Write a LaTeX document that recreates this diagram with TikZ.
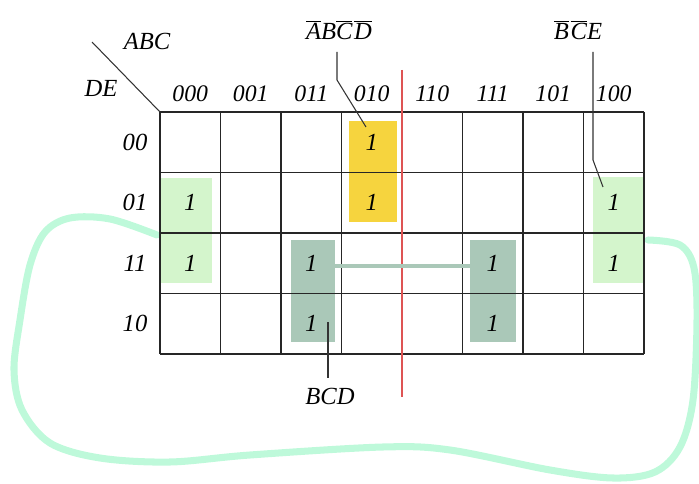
\documentclass[tikz,border=0pt]{standalone}
\usepackage{fontspec}
\setmainfont{Liberation Serif}
\usepackage{tikz}
\usetikzlibrary{positioning, calc}

\definecolor{yelbox}{RGB}{246,212,62}
\definecolor{ltgreen}{RGB}{212,245,204}
\definecolor{sage}{RGB}{170,200,184}
\definecolor{mint}{RGB}{190,249,218}
\definecolor{axisred}{RGB}{222,84,84}
\newcommand{\ov}[1]{$\overline{\mbox{#1}}$}

\begin{document}
\begin{tikzpicture}[
  font=\itshape\fontsize{14}{16}\selectfont,
  hdr/.style={font=\itshape\fontsize{13.5}{16}\selectfont},
  one/.style={inner sep=0pt},
  grp/.style={inner sep=0pt, draw=none},
  lead/.style={draw=black!80, line width=0.6pt},
  gridln/.style={black!85, line width=0.9pt},
]
  % 8 columns (ABC) x 4 rows (DE), origin = top-left corner of the map
  \def\cw{1.21}
  \useasboundingbox (-3.2,2.24) rectangle (10.78,-7.44);

  % Freehand loop (drawn first, sits behind the map)
  \draw[mint, line width=4pt, line cap=round, line join=round]
    plot[smooth, tension=0.55] coordinates {
      (-0.06,-2.46) (-1.00,-2.14) (-1.80,-2.12) (-2.30,-2.40) (-2.60,-3.06)
      (-2.80,-4.16) (-2.92,-5.16) (-2.76,-5.96) (-2.20,-6.62) (-1.20,-6.92)
      (0.20,-7.00) (1.80,-6.86) (4.46,-6.70) (5.80,-6.76) (7.80,-7.16)
      (9.06,-7.32) (9.90,-7.20) (10.40,-6.70) (10.66,-5.76) (10.74,-4.16)
      (10.68,-3.12) (10.40,-2.66) (9.76,-2.56)};

  % Groups of ones
  \node[grp, fill=yelbox, minimum width=0.96cm, minimum height=2.02cm] (gy) at (4.26,-1.19) {};
  \node[grp, fill=ltgreen, minimum width=1.02cm, minimum height=2.10cm] (ggl) at (0.53,-2.37) {};
  \node[grp, fill=ltgreen, minimum width=1.00cm, minimum height=2.12cm] (ggr) at (9.16,-2.36) {};
  \node[grp, fill=sage, minimum width=0.88cm, minimum height=2.04cm] (gdl) at (3.06,-3.58) {};
  \node[grp, fill=sage, minimum width=0.92cm, minimum height=2.04cm] (gdr) at (6.66,-3.58) {};

  % Grid (column line 4 is the red mirror axis)
  \foreach \x in {0,1,2,3,5,6,7,8}
    \draw[gridln] (\x*\cw,0) -- (\x*\cw,-4*\cw);
  \foreach \y in {0,...,4}
    \draw[gridln] (0,-\y*\cw) -- (8*\cw,-\y*\cw);
  \draw[axisred, line width=0.6pt] (4*\cw,0.84) -- (4*\cw,-5.70);

  % Corner
  \coordinate (corner) at (0,0);
  \draw[lead] (-1.36,1.40) -- (corner);
  \node[anchor=base] (labc) at (-0.26,1.24) {ABC};
  \node[anchor=base] (lde) at (-1.18,0.30) {DE};

  % Column and row labels
  \foreach \c/\t in {0/000, 1/001, 2/011, 3/010, 4/110, 5/111, 6/101, 7/100}
    \node[hdr] (h\c) at ({(\c+0.5)*\cw},0.36) {\t};
  \foreach \r/\t in {0/00, 1/01, 2/11, 3/10}
    \node (r\r) at (-0.5,{-(\r+0.5)*\cw}) {\t};

  % Ones
  \foreach \n/\c/\r in {a/3/0, b/3/1, c/0/1, d/0/2, e/7/1, f/7/2, g/2/2, h/2/3, i/5/2, j/5/3}
    \node[one] (o\n) at ({(\c+0.5)*\cw},{-(\r+0.5)*\cw}) {1};

  % Link between the two BCD groups
  \draw[sage, line width=2.2pt] ([yshift=-1.5pt]gdl.east |- og) -- ([yshift=-1.5pt]gdr.west |- og);

  % Term labels and leaders
  \node[anchor=base] (lyel) at (3.58,1.44) {\ov{A}B\ov{C}\kern1pt\ov{D}};
  \coordinate (tyel) at (4.12,-0.30);
  \draw[lead] (lyel.base) ++(-0.04,-0.24) -- ++(0,-0.56) -- (tyel);

  \node[anchor=base] (lbce) at (8.36,1.44) {\ov{B}\kern1pt\ov{C}E};
  \coordinate (tbce) at (8.86,-1.50);
  \draw[lead] (lbce.base) ++(0.30,-0.24) -- ++(0,-2.16) -- (tbce);

  \node[anchor=base] (lbcd) at (3.40,-5.86) {BCD};
  \draw[lead] (lbcd.base) ++(-0.04,0.54) -- ++(0,1.12);
\end{tikzpicture}
\end{document}
